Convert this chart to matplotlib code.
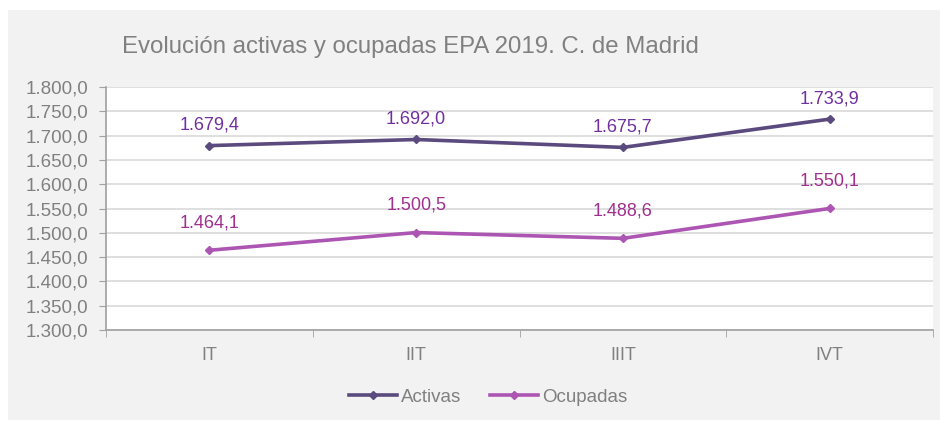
import matplotlib.pyplot as plt
from matplotlib.patches import Rectangle
import numpy as np

plt.rcParams['font.family'] = ['Liberation Sans', 'DejaVu Sans']

# datos
trimestres = ['IT', 'IIT', 'IIIT', 'IVT']
activas = [1679.4, 1692.0, 1675.7, 1733.9]
ocupadas = [1464.1, 1500.5, 1488.6, 1550.1]
y_ticks = [1300, 1350, 1400, 1450, 1500, 1550, 1600, 1650, 1700, 1750, 1800]

c_act = '#5B4A7E'
c_ocu = '#AD55B3'
c_lab_act = '#7030A0'
c_lab_ocu = '#A0308F'
gris = '#808080'


def fmt(v):
    # formato español: punto miles, coma decimal
    s = f"{v:,.1f}"
    return s.replace(',', 'X').replace('.', ',').replace('X', '.')


fig = plt.figure(figsize=(9.44, 4.22), dpi=100)
fig.patch.set_facecolor('white')
fig.patches.append(Rectangle((8 / 944, 2 / 422), 932 / 944, 410 / 422,
                             transform=fig.transFigure, facecolor='#F2F2F2',
                             edgecolor='none', zorder=-5))

ax = fig.add_axes([106 / 944, 1 - 330 / 422, 827 / 944, 243 / 422])
ax.set_facecolor('white')

x = np.arange(len(trimestres))
ax.plot(x, activas, color=c_act, lw=2.6, marker='D', ms=4.5, label='Activas')
ax.plot(x, ocupadas, color=c_ocu, lw=2.6, marker='D', ms=4.5, label='Ocupadas')

for xi, v in zip(x, activas):
    ax.annotate(fmt(v), (xi, v), xytext=(0, 14.5), textcoords='offset points',
                ha='center', va='center', color=c_lab_act, fontsize=13)
for xi, v in zip(x, ocupadas):
    ax.annotate(fmt(v), (xi, v), xytext=(0, 19.5), textcoords='offset points',
                ha='center', va='center', color=c_lab_ocu, fontsize=13)

ax.set_xlim(-0.5, len(trimestres) - 0.5)
ax.set_ylim(1300, 1800)
ax.set_yticks(y_ticks)
ax.set_yticklabels([fmt(v) for v in y_ticks])
ax.set_xticks(x)
ax.set_xticklabels(trimestres)
ax.set_xticks(np.arange(len(trimestres) + 1) - 0.5, minor=True)
ax.tick_params(axis='x', which='major', length=0, pad=12, labelsize=13, labelcolor=gris)
ax.tick_params(axis='x', which='minor', length=5, color='#A0A0A0')
ax.tick_params(axis='y', length=5, color='#A0A0A0', labelsize=13.5, labelcolor=gris, pad=8)

ax.grid(axis='y', color='#D9D9D9', lw=1.2)
ax.set_axisbelow(True)
for s in ['top', 'right']:
    ax.spines[s].set_visible(False)
ax.spines['left'].set_color('#A0A0A0')
ax.spines['bottom'].set_color('#A0A0A0')
ax.spines['left'].set_linewidth(1.2)
ax.spines['bottom'].set_linewidth(1.2)

fig.text(122 / 944, 1 - 47 / 422, 'Evolución activas y ocupadas EPA 2019. C. de Madrid',
         fontsize=17.3, color=gris, va='center', ha='left')

fig.legend(loc='center', bbox_to_anchor=(488 / 944, 1 - 397 / 422), ncol=2,
           frameon=False, fontsize=13.5, labelcolor=gris, handlelength=2.6,
           columnspacing=1.5, handletextpad=0.2)

plt.savefig('out.png', dpi=100)
